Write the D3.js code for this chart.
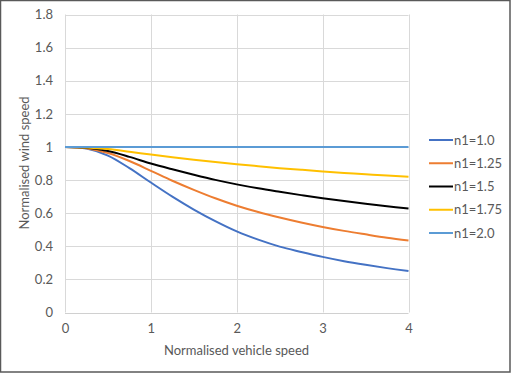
<!DOCTYPE html>
<html><head><meta charset="utf-8">
<script src="https://cdn.jsdelivr.net/npm/d3@7"></script>
<style>
html,body{margin:0;padding:0;background:#fff;}
svg{display:block;}
text{font-family:Lato,"Open Sans",sans-serif;fill:#595959;}
</style></head>
<body>
<script>
const xValues = [0,0.25,0.5,0.75,1,1.25,1.5,1.75,2,2.25,2.5,2.75,3,3.25,3.5,3.75,4];
const seriesNames = ["n1=1.0","n1=1.25","n1=1.5","n1=1.75","n1=2.0"];
const n1_10  = [1,0.99,0.948,0.872,0.785,0.70,0.622,0.552,0.49,0.44,0.398,0.366,0.336,0.31,0.288,0.268,0.25];
const n1_125 = [1,0.992,0.963,0.915,0.856,0.796,0.741,0.69,0.645,0.607,0.574,0.544,0.517,0.493,0.472,0.452,0.435];
const n1_15  = [1,0.995,0.975,0.94,0.90,0.865,0.832,0.801,0.774,0.75,0.729,0.709,0.69,0.673,0.657,0.642,0.628];
const n1_175 = [1,0.997,0.987,0.971,0.954,0.938,0.923,0.909,0.896,0.884,0.872,0.862,0.852,0.843,0.835,0.827,0.82];
const n1_20  = [1,1,1,1,1,1,1,1,1,1,1,1,1,1,1,1,1];
const seriesValues = [n1_10,n1_125,n1_15,n1_175,n1_20];
const seriesColors = ["#4472C4","#ED7D31","#000000","#FFC000","#5B9BD5"];
const xTicks = [0,1,2,3,4];
const yTicks = [0,0.2,0.4,0.6,0.8,1,1.2,1.4,1.6,1.8];

const W=511,H=373;
const svg=d3.select("body").append("svg").attr("width",W).attr("height",H);
svg.append("rect").attr("x",0.5).attr("y",0.5).attr("width",W-1.5).attr("height",H-1.5)
  .attr("fill","#fff").attr("stroke","#595959").attr("stroke-width",1.5);

const x=d3.scaleLinear().domain([0,4]).range([65,408.5]);
const y=d3.scaleLinear().domain([0,1.8]).range([312.5,14.5]);

const g=svg.append("g");
g.selectAll("line.h").data(yTicks).join("line")
  .attr("x1",x(0)).attr("x2",x(4)).attr("y1",d=>Math.round(y(d))+0.5).attr("y2",d=>Math.round(y(d))+0.5)
  .attr("stroke",d=>d===0?"#d0d0d0":"#d9d9d9").attr("stroke-width",1);
g.selectAll("line.v").data(xTicks).join("line")
  .attr("y1",y(0)).attr("y2",y(1.8)).attr("x1",d=>Math.round(x(d))+0.5).attr("x2",d=>Math.round(x(d))+0.5)
  .attr("stroke","#d9d9d9").attr("stroke-width",1);

const xAxis=svg.append("g").attr("transform",`translate(0,${y(0)})`)
  .call(d3.axisBottom(x).tickValues(xTicks).tickSize(0).tickPadding(11).tickFormat(d3.format("d")));
xAxis.select(".domain").remove();
xAxis.selectAll("text").attr("font-size",13).style("fill","#595959").style("font-family","Lato,sans-serif");

const yAxis=svg.append("g").attr("transform",`translate(${x(0)},0)`)
  .call(d3.axisLeft(y).tickValues(yTicks).tickSize(0).tickPadding(12).tickFormat(d=>d===0?"0":d===1?"1":d3.format(".1f")(d)));
yAxis.select(".domain").remove();
yAxis.selectAll("text").attr("font-size",13).style("fill","#595959").style("font-family","Lato,sans-serif");

svg.append("text").attr("x",236.5).attr("y",355).attr("text-anchor","middle").attr("font-size",13)
  .text("Normalised vehicle speed");
svg.append("text").attr("transform",`translate(29,163) rotate(-90)`).attr("text-anchor","middle").attr("font-size",13)
  .text("Normalised wind speed");

const line=d3.line().x((d,i)=>x(xValues[i])).y(d=>y(d)).curve(d3.curveCatmullRom.alpha(0.5));
svg.append("g").selectAll("path").data(seriesValues).join("path")
  .attr("d",d=>line(d)).attr("fill","none").attr("stroke",(d,i)=>seriesColors[i]).attr("stroke-width",2);

const leg=svg.append("g");
const ly=d3.scalePoint().domain(seriesNames).range([140,233]);
seriesNames.forEach((n,i)=>{
  leg.append("line").attr("x1",429).attr("x2",453).attr("y1",ly(n)).attr("y2",ly(n))
    .attr("stroke",seriesColors[i]).attr("stroke-width",2);
  leg.append("text").attr("x",454).attr("y",ly(n)).attr("dy","0.35em").attr("font-size",13).text(n);
});
</script>
</body></html>
